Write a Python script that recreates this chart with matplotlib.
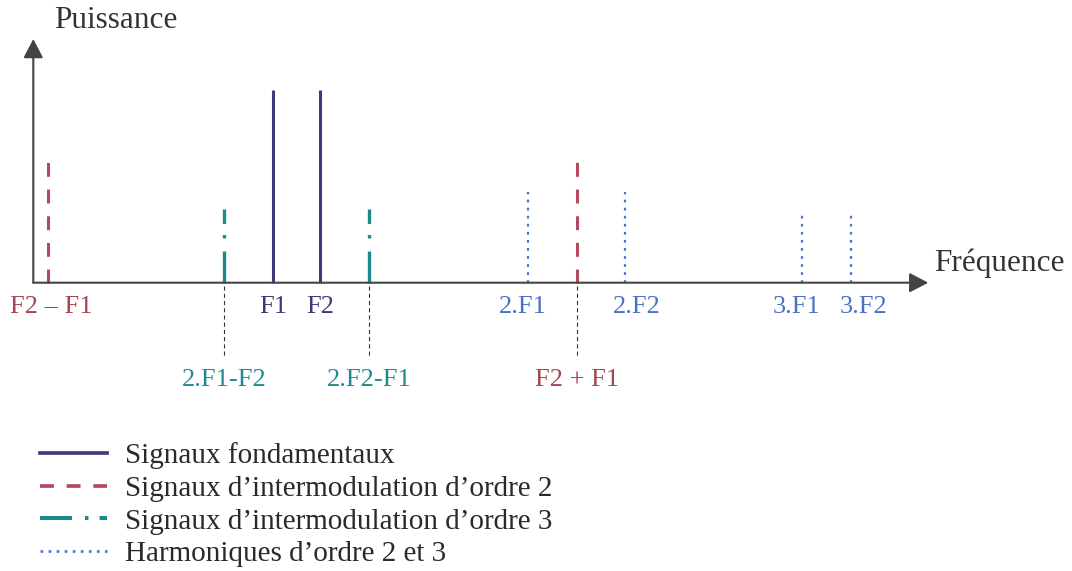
import matplotlib
matplotlib.use('Agg')
import matplotlib.pyplot as plt
from matplotlib.lines import Line2D

plt.rcParams['font.family'] = ['Liberation Serif', 'DejaVu Serif']
plt.rcParams['lines.scale_dashes'] = False

# spectrum lines: schematic frequency position, relative power (fundamentals = 1)
labels = ['F2 – F1', '2.F1-F2', 'F1', 'F2', '2.F2-F1', '2.F1', 'F2 + F1', '2.F2', '3.F1', '3.F2']
freq = [15, 191, 240, 287, 336, 495, 544, 592, 769, 818]
power = [0.63, 0.38, 1.0, 1.0, 0.38, 0.47, 0.63, 0.47, 0.35, 0.35]
kind = ['im2', 'im3', 'fund', 'fund', 'im3', 'harm', 'im2', 'harm', 'harm', 'harm']

legend_text = {
    'fund': 'Signaux fondamentaux',
    'im2': 'Signaux d’intermodulation d’ordre 2',
    'im3': 'Signaux d’intermodulation d’ordre 3',
    'harm': 'Harmoniques d’ordre 2 et 3',
}

styles = {
    'fund': dict(color='#3d3b7c', lw=2.2, ls='-'),
    'im2': dict(color='#b4495c', lw=2.2, ls=(0, (10, 9.2))),
    'im3': dict(color='#1b8a8c', lw=2.4, ls=(0, (23, 9.4, 2.5, 8))),
    'harm': dict(color='#4e73d4', lw=1.6, ls=(0, (2, 3.8))),
}
label_colors = {'fund': '#3a3a78', 'im2': '#a8454f', 'im3': '#1f8a8f', 'harm': '#4a70c8'}
lower_row = {'2.F1-F2', '2.F2-F1', 'F2 + F1'}
# small horizontal nudges so neighbouring harmonic labels don't collide
label_dx = {'2.F1': -5, '2.F2': 12, '3.F1': -6, '3.F2': 12, 'F2 – F1': 3}

PX = 193.0  # pixels per unit of power
fig = plt.figure(figsize=(10.72, 5.71), dpi=100)
ax = fig.add_axes([0, 0, 1, 1])
ax.set_xlim(-33.3, 1072 - 33.3)
ax.set_ylim(-288.3 / PX, 282.7 / PX)
ax.axis('off')

for k in ['fund', 'im2', 'im3', 'harm']:
    xs = [f for f, kk in zip(freq, kind) if kk == k]
    hs = [p for p, kk in zip(power, kind) if kk == k]
    st = styles[k]
    ax.vlines(xs, 0, hs, colors=st['color'], linewidths=st['lw'], linestyles=[st['ls']], zorder=2)

# axes with arrow heads
arrow = dict(arrowstyle='-|>,head_length=1.15,head_width=0.6', mutation_scale=10,
             color='#444444', lw=1.5, shrinkA=0, shrinkB=0)
ax.annotate('', xy=(895, 0), xytext=(0, 0), arrowprops=arrow, zorder=3)
ax.annotate('', xy=(0, (282.7 - 39) / PX), xytext=(0, 0), arrowprops=arrow, zorder=3)
ax.text(82, (282.7 - 21) / PX, 'Puissance', fontsize=22.5, color='#333333', ha='center', va='center')
ax.text(901, (282.7 - 263) / PX, 'Fréquence', fontsize=22.5, color='#333333', ha='left', va='center')

# frequency labels, long ones pushed down with a dashed guide
for lab, f, k in zip(labels, freq, kind):
    if lab in lower_row:
        ax.vlines(f, -3 / PX, -74 / PX, colors='#333333', linewidths=0.8,
                  linestyles=[(0, (3, 2.2))], zorder=1)
        y = -(380 - 282.7) / PX
    else:
        y = -(307 - 282.7) / PX
    ax.text(f + label_dx.get(lab, 0), y, lab, fontsize=19, color=label_colors[k],
            ha='center', va='center')

handles = [Line2D([], [], color=styles[k]['color'], lw=styles[k]['lw'] * 1.2, ls=styles[k]['ls'])
           for k in ['fund', 'im2', 'im3', 'harm']]
ax.legend(handles, [legend_text[k] for k in ['fund', 'im2', 'im3', 'harm']],
          loc='upper left', bbox_to_anchor=(40 / 1072, 1 - 442 / 571), frameon=False,
          fontsize=21, borderpad=0, borderaxespad=0, handlelength=2.3,
          handletextpad=0.6, labelspacing=0.22, labelcolor='#2a2a2a')

fig.savefig('out.png', dpi=100)
